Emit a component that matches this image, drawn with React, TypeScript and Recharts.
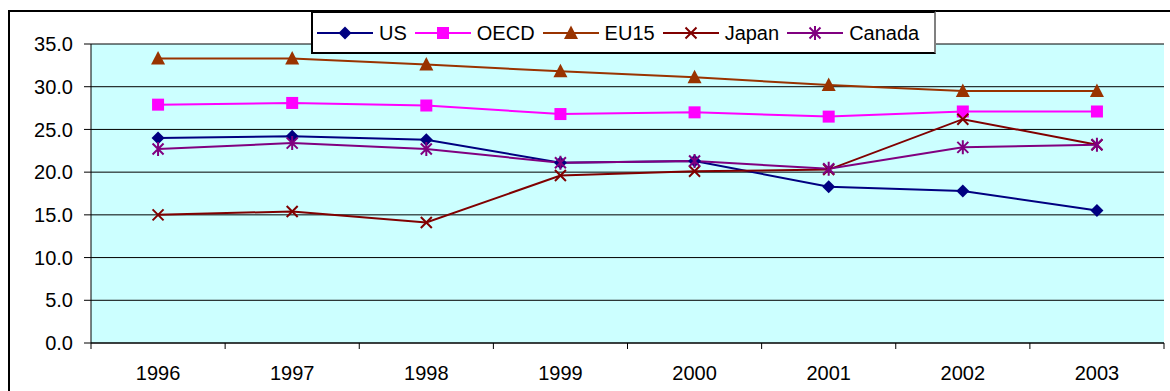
import { CartesianGrid, Legend, Line, LineChart, XAxis, YAxis } from "recharts";

const years = ["1996", "1997", "1998", "1999", "2000", "2001", "2002", "2003"];
const us = [24.0, 24.2, 23.8, 21.1, 21.3, 18.3, 17.8, 15.5];
const oecd = [27.9, 28.1, 27.8, 26.8, 27.0, 26.5, 27.1, 27.1];
const eu15 = [33.3, 33.3, 32.6, 31.8, 31.1, 30.2, 29.5, 29.5];
const japan = [15.0, 15.4, 14.1, 19.6, 20.1, 20.3, 26.2, 23.2];
const canada = [22.7, 23.4, 22.7, 21.1, 21.3, 20.4, 22.9, 23.2];
const yTicks = [0, 5, 10, 15, 20, 25, 30, 35];

type Shape = "diamond" | "square" | "triangle" | "x" | "star";

const series: { key: string; color: string; shape: Shape }[] = [
  { key: "US", color: "#000080", shape: "diamond" },
  { key: "OECD", color: "#FF00FF", shape: "square" },
  { key: "EU15", color: "#993300", shape: "triangle" },
  { key: "Japan", color: "#800000", shape: "x" },
  { key: "Canada", color: "#800080", shape: "star" },
];

const data = years.map((year, i) => ({
  year,
  US: us[i],
  OECD: oecd[i],
  EU15: eu15[i],
  Japan: japan[i],
  Canada: canada[i],
}));

function Marker({ shape, cx, cy, color }: { shape: Shape; cx: number; cy: number; color: string }) {
  switch (shape) {
    case "diamond":
      return (
        <polygon
          points={`${cx},${cy - 6.5} ${cx + 6.5},${cy} ${cx},${cy + 6.5} ${cx - 6.5},${cy}`}
          fill={color}
        />
      );
    case "square":
      return <rect x={cx - 6} y={cy - 6} width={12} height={12} fill={color} />;
    case "triangle":
      return <polygon points={`${cx},${cy - 7.5} ${cx + 7},${cy + 6} ${cx - 7},${cy + 6}`} fill={color} />;
    case "x":
      return (
        <path
          d={`M${cx - 5.5},${cy - 5.5}L${cx + 5.5},${cy + 5.5}M${cx + 5.5},${cy - 5.5}L${cx - 5.5},${cy + 5.5}`}
          stroke={color}
          strokeWidth={2}
          fill="none"
        />
      );
    default:
      return (
        <path
          d={`M${cx - 5.5},${cy - 5.5}L${cx + 5.5},${cy + 5.5}M${cx + 5.5},${cy - 5.5}L${cx - 5.5},${cy + 5.5}M${cx},${cy - 7}L${cx},${cy + 7}`}
          stroke={color}
          strokeWidth={2}
          fill="none"
        />
      );
  }
}

function dotFor(shape: Shape, color: string) {
  return (props: any) => {
    if (props.cx == null || props.cy == null) return <g key={props.index} />;
    return <Marker key={props.index} shape={shape} cx={props.cx} cy={props.cy} color={color} />;
  };
}

function YearTick(props: any) {
  const { x, y, payload, index, visibleTicksCount, width } = props;
  const band = width / visibleTicksCount;
  return (
    <g>
      <line x1={x - band / 2} x2={x - band / 2} y1={y} y2={y + 6} stroke="#000" />
      {index === visibleTicksCount - 1 && (
        <line x1={x + band / 2} x2={x + band / 2} y1={y} y2={y + 6} stroke="#000" />
      )}
      <text x={x} y={y + 37} textAnchor="middle" fontSize={20} fill="#000">
        {payload.value}
      </text>
    </g>
  );
}

function LegendBox() {
  return (
    <div
      style={{
        boxSizing: "border-box",
        width: 625,
        height: 43,
        background: "#fff",
        border: "2px solid #000",
        borderRight: "2px solid #808080",
        display: "flex",
        alignItems: "center",
        paddingLeft: 4,
        fontSize: 20,
        color: "#000",
      }}
    >
      {series.map((s) => (
        <div key={s.key} style={{ display: "flex", alignItems: "center", marginRight: 8 }}>
          <svg width={56} height={16} style={{ display: "block" }}>
            <line x1={0} x2={56} y1={8} y2={8} stroke={s.color} strokeWidth={2} />
            <Marker shape={s.shape} cx={28} cy={8} color={s.color} />
          </svg>
          <span style={{ marginLeft: 6, lineHeight: "20px" }}>{s.key}</span>
        </div>
      ))}
    </div>
  );
}

export default function App() {
  return (
    <div
      style={{
        position: "relative",
        width: 1170,
        height: 391,
        overflow: "hidden",
        fontFamily: "'Liberation Sans', Arial, sans-serif",
      }}
    >
      <style>{`body{margin:0;overflow:hidden}`}</style>
      <div
        style={{
          position: "absolute",
          left: 8,
          top: 10,
          width: 1300,
          height: 600,
          borderLeft: "2px solid #000",
          borderTop: "2px solid #000",
        }}
      />
      <div style={{ position: "absolute", left: 0, top: 0 }}>
        <LineChart width={1170} height={391} data={data} margin={{ top: 44, right: 6, bottom: 0, left: 0 }}>
          <CartesianGrid vertical={false} stroke="#000" fill="#CCFFFF" fillOpacity={1} />
          <XAxis
            dataKey="year"
            scale="band"
            height={48}
            axisLine={{ stroke: "#000" }}
            tickLine={false}
            tickSize={0}
            tickMargin={0}
            tick={<YearTick />}
            interval={0}
          />
          <XAxis
            xAxisId="top"
            dataKey="year"
            scale="band"
            orientation="top"
            height={0}
            tick={false}
            tickLine={false}
            axisLine={{ stroke: "#808080", strokeWidth: 2 }}
          />
          <YAxis
            width={91}
            domain={[0, 35]}
            ticks={yTicks}
            tickFormatter={(v: number) => v.toFixed(1)}
            tickSize={7}
            tickMargin={11}
            axisLine={{ stroke: "#000" }}
            tickLine={{ stroke: "#000" }}
            tick={{ fill: "#000", fontSize: 20 }}
          />
          <YAxis
            yAxisId="right"
            orientation="right"
            width={0}
            domain={[0, 35]}
            ticks={yTicks}
            tick={false}
            tickLine={false}
            axisLine={{ stroke: "#808080", strokeWidth: 2 }}
          />
          <Legend
            layout="horizontal"
            verticalAlign="middle"
            align="center"
            content={<LegendBox />}
            wrapperStyle={{ left: 311, top: 11, width: 625, height: 43 }}
          />
          {series.map((s) => (
            <Line
              key={s.key}
              type="linear"
              dataKey={s.key}
              stroke={s.color}
              strokeWidth={2}
              dot={dotFor(s.shape, s.color)}
              activeDot={false}
              isAnimationActive={false}
            />
          ))}
        </LineChart>
      </div>
    </div>
  );
}
